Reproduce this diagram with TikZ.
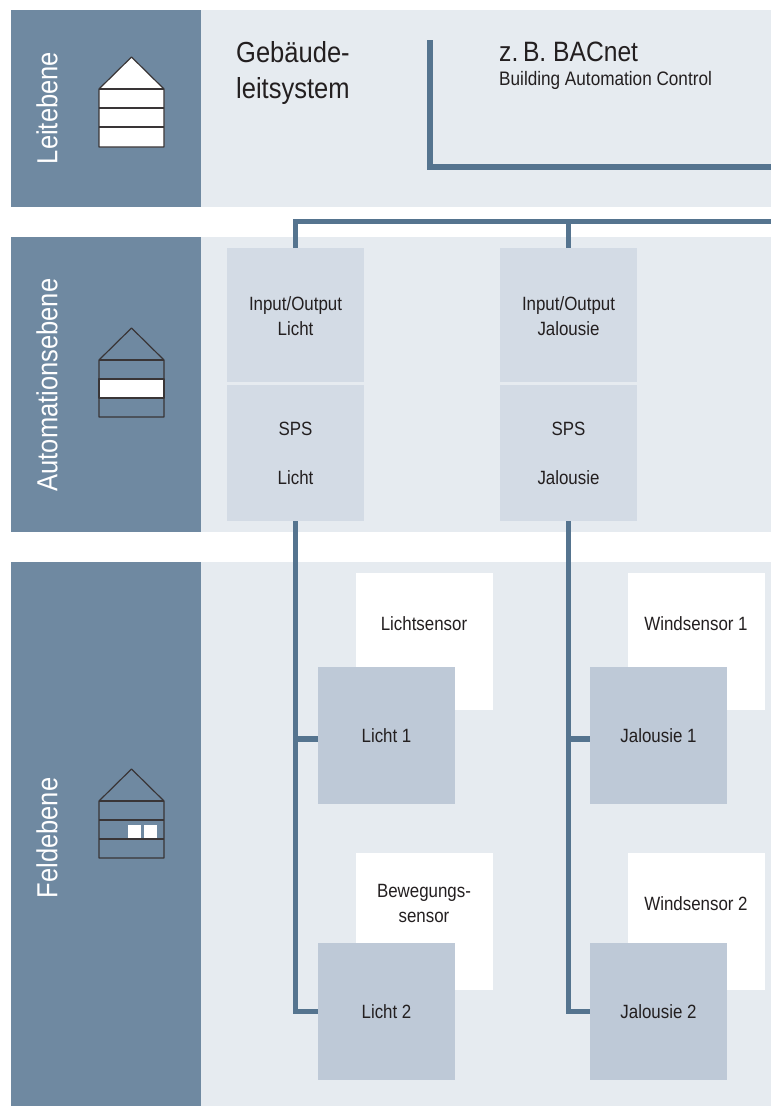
\documentclass[tikz,border=0pt]{standalone}
\usepackage{fontspec}
\setmainfont{Liberation Sans}
\newfontfamily\narrowfont[FakeStretch=0.88]{Liberation Sans}
\definecolor{bandblue}{HTML}{6F89A1}
\definecolor{bandpale}{HTML}{E6EBF0}
\definecolor{boxpale}{HTML}{D3DBE5}
\definecolor{boxblue}{HTML}{BEC9D7}
\definecolor{busblue}{HTML}{55748F}
\definecolor{inktext}{HTML}{231F20}
\tikzset{
  band/.style={fill=#1,inner sep=0pt,minimum width=570,outer sep=0pt},
  sidelabel/.style={text=white,rotate=90,inner sep=0pt,font=\narrowfont\fontsize{29}{29}\selectfont},
  unitbox/.style={fill=#1,inner sep=0pt,minimum size=137,text=inktext,align=center,outer sep=0pt,
    font=\narrowfont\fontsize{19.2}{25}\selectfont},
  unittext/.style={inner sep=0pt,text=inktext,align=center,font=\narrowfont\fontsize{19.2}{25}\selectfont},
  busline/.style={draw=busblue,line width=5.5pt},
  houseline/.style={draw=inktext!90,line width=1.2pt,line join=round}
}
\begin{document}
\begin{tikzpicture}[x=1pt,y=-1pt]
\useasboundingbox (0,0) rectangle (771,1106);
\draw (486,108.5) node[band=bandpale,minimum height=197](leitright) {};
\draw (486,384.5) node[band=bandpale,minimum height=295](autoright) {};
\draw (486,834) node[band=bandpale,minimum height=544](feldright) {};
\draw (106,108.5) node[band=bandblue,minimum width=190,minimum height=197](leitleft) {};
\draw (106,384.5) node[band=bandblue,minimum width=190,minimum height=295](autoleft) {};
\draw (106,834) node[band=bandblue,minimum width=190,minimum height=544](feldleft) {};
\draw (47,108) node[sidelabel](leitlabel) {Leitebene};
\draw (47,385) node[sidelabel](autolabel) {Automationsebene};
\draw (47,838) node[sidelabel](feldlabel) {Feldebene};
\draw[houseline,fill=white] (99,89) -- (131.5,57) -- (164,89) -- (164,147) -- (99,147) -- cycle;
\draw[houseline] (99,89) -- (164,89);
\draw[houseline] (99,108) -- (164,108);
\draw[houseline] (99,127) -- (164,127);
\draw[houseline,fill=white] (99,379) rectangle (164,398);
\draw[houseline] (99,360) -- (131.5,328) -- (164,360) -- (164,417) -- (99,417) -- cycle;
\draw[houseline] (99,360) -- (164,360);
\draw[houseline] (99,801) -- (131.5,769) -- (164,801) -- (164,858) -- (99,858) -- cycle;
\draw[houseline] (99,801) -- (164,801);
\draw[houseline] (99,820) -- (164,820);
\draw[houseline] (99,839) -- (164,839);
\fill[white] (128,825) rectangle (141,838);
\fill[white] (144,825) rectangle (157,838);
\draw (236,71) node[anchor=west,inner sep=0pt,align=left,text=inktext,font=\narrowfont\fontsize{29}{36}\selectfont,yshift=-2](gebaeude) {Gebäude-\\leitsystem};
\draw (499,52) node[anchor=west,inner sep=0pt,text=inktext,font=\narrowfont\fontsize{28}{28}\selectfont](bacnet) {z.\,B. BACnet};
\draw (499,80) node[anchor=west,inner sep=0pt,text=inktext,font=\narrowfont\fontsize{19.5}{20}\selectfont](bacnetsub) {Building Automation Control};
\draw (295.5,315) node[unitbox=boxpale,minimum height=134](iolicht) {};
\draw (568.5,315) node[unitbox=boxpale,minimum height=134](iojal) {};
\draw (295.5,316.5) node[unittext](iolichttext) {Input/Output\\Licht};
\draw (568.5,316.5) node[unittext](iojaltext) {Input/Output\\Jalousie};
\draw (295.5,453) node[unitbox=boxpale,minimum height=136,font=\narrowfont\fontsize{19.2}{49}\selectfont](spslicht) {SPS\\Licht};
\draw (568.5,453) node[unitbox=boxpale,minimum height=136,font=\narrowfont\fontsize{19.2}{49}\selectfont](spsjal) {SPS\\Jalousie};
\draw (424.5,641.5) node[unitbox=white](lichtsensor) {};
\draw (696.5,641.5) node[unitbox=white](windeins) {};
\draw (424.5,921.5) node[unitbox=white](bewegung) {};
\draw (696.5,921.5) node[unitbox=white](windzwei) {};
\draw (424,624) node[unittext](lichtsensortext) {Lichtsensor};
\draw (696,624) node[unittext](windeinstext) {Windsensor 1};
\draw (424,903) node[unittext](bewegungtext) {Bewegungs-\\sensor};
\draw (696,904) node[unittext](windzweitext) {Windsensor 2};
\draw (386.5,735.5) node[unitbox=boxblue](lichteins) {Licht 1};
\draw (658.5,735.5) node[unitbox=boxblue](jaleins) {Jalousie 1};
\draw (386.5,1011.5) node[unitbox=boxblue](lichtzwei) {Licht 2};
\draw (658.5,1011.5) node[unitbox=boxblue](jalzwei) {Jalousie 2};
\coordinate (bacnettop) at (430,40);
\coordinate (bacnetright) at (771,167);
\coordinate (busleft) at (295.5,221.5);
\coordinate (busright) at (771,221.5);
\coordinate (busjal) at (568.5,221.5);
\coordinate (lichtbranch) at (318,739);
\coordinate (jalbranch) at (590,739);
\draw[busline] (bacnettop) |- (bacnetright);
\draw[busline] (iolicht.north) -- (busleft) -- (busright);
\draw[busline] (iojal.north) -- (busjal);
\draw[busline] (spslicht.south) |- (lichtzwei.west);
\draw[busline] (spsjal.south) |- (jalzwei.west);
\draw[busline] (spslicht.south |- lichtbranch) -- (lichtbranch);
\draw[busline] (spsjal.south |- jalbranch) -- (jalbranch);
\end{tikzpicture}
\end{document}
